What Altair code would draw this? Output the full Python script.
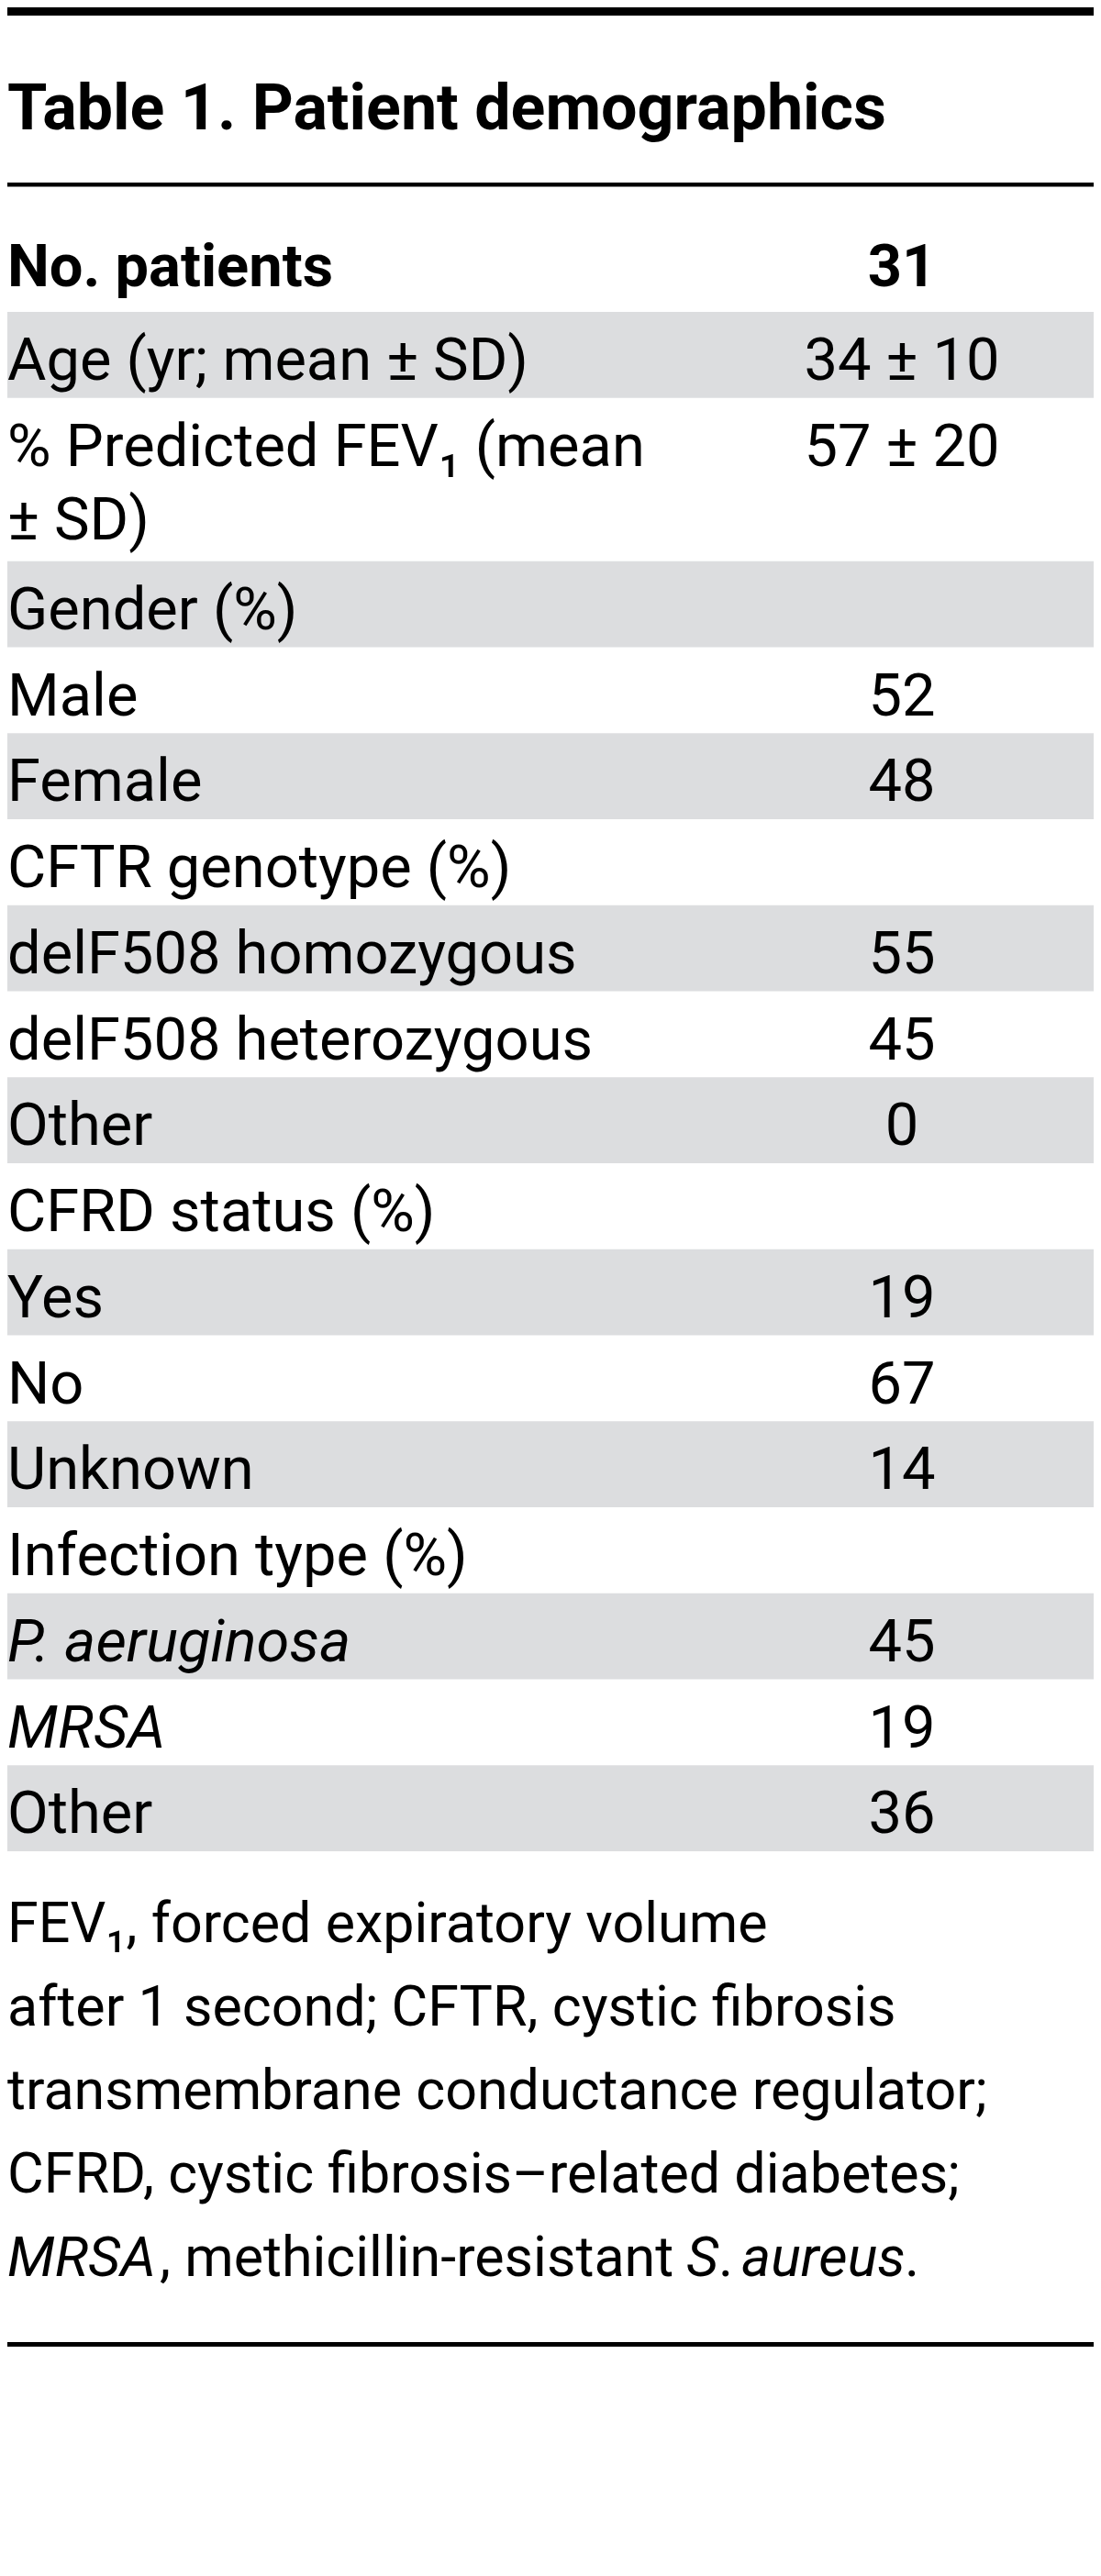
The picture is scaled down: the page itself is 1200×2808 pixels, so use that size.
import altair as alt
import pandas as pd

# ---------------- data ----------------
title_text = "Table 1. Patient demographics"
header_label = "No. patients"
header_value = "31"

row_labels = [
    "Age (yr; mean ± SD)",
    "% Predicted FEV₁ (mean\n± SD)",
    "Gender (%)",
    "Male",
    "Female",
    "CFTR genotype (%)",
    "delF508 homozygous",
    "delF508 heterozygous",
    "Other",
    "CFRD status (%)",
    "Yes",
    "No",
    "Unknown",
    "Infection type (%)",
    "P. aeruginosa",
    "MRSA",
    "Other",
]
row_values = ["34 ± 10", "57 ± 20", "", "52", "48", "", "55", "45", "0",
              "", "19", "67", "14", "", "45", "19", "36"]
row_italic = [False, False, False, False, False, False, False, False, False,
              False, False, False, False, False, True, True, False]

footnote_lines = [
    "FEV₁, forced expiratory volume",
    "after 1 second; CFTR, cystic fibrosis",
    "transmembrane conductance regulator;",
    "CFRD, cystic fibrosis–related diabetes;",
]
footnote_last_segments = ["MRSA", ", methicillin-resistant", "S", ".", "aureus", "."]
footnote_last_italic = [True, False, True, False, True, False]

# ---------------- layout (styles) ----------------
W, H = 1184, 2790
FONT = "Roboto"
GRAY = "#dcdddf"
BODY_SIZE = 65
TITLE_SIZE = 70
FOOT_SIZE = 61
TOP_BAR = (0, 9)
TITLE_BASE = 133
RULE1 = (191, 195.5)
HEADER_BASE = 304
BODY_TOP = 332
PITCH = 93.75
EXTRA_LINE = 84.25
BASE_OFF = 74
LINE_GAP = 80
VALUE_X = 975
FOOT_BASE0 = 2109
FOOT_GAP = 91
RULE2 = (2545, 2550)
SEG_X = [0, 166, 740, 775, 800, 978]

# ---------------- build tables ----------------
rects = [
    dict(x=0, x2=W, y=TOP_BAR[0], y2=TOP_BAR[1], c="#000000"),
    dict(x=0, x2=W, y=RULE1[0], y2=RULE1[1], c="#000000"),
    dict(x=0, x2=W, y=RULE2[0], y2=RULE2[1], c="#000000"),
]
lab_reg, lab_it, vals = [], [], []
top = BODY_TOP
for i, (lab, val, it) in enumerate(zip(row_labels, row_values, row_italic)):
    lines = lab.split("\n")
    h = PITCH + (len(lines) - 1) * EXTRA_LINE
    if i % 2 == 0:
        rects.append(dict(x=0, x2=W, y=top, y2=top + h, c=GRAY))
    for j, ln in enumerate(lines):
        rec = dict(x=0, y=top + BASE_OFF + j * LINE_GAP, text=ln)
        (lab_it if it else lab_reg).append(rec)
    if val:
        vals.append(dict(x=VALUE_X, y=top + BASE_OFF, text=val))
    top += h

foot_reg, foot_it = [], []
for j, ln in enumerate(footnote_lines):
    foot_reg.append(dict(x=0, y=FOOT_BASE0 + j * FOOT_GAP, text=ln))
yl = FOOT_BASE0 + len(footnote_lines) * FOOT_GAP
for seg, it, sx in zip(footnote_last_segments, footnote_last_italic, SEG_X):
    (foot_it if it else foot_reg).append(dict(x=sx, y=yl, text=seg))

xs = alt.Scale(domain=[0, W], nice=False, zero=False)
ys = alt.Scale(domain=[0, H], nice=False, zero=False, reverse=True)


def rect_layer(rows):
    return alt.Chart(pd.DataFrame(rows)).mark_rect().encode(
        x=alt.X("x:Q", scale=xs, axis=None),
        x2="x2:Q",
        y=alt.Y("y:Q", scale=ys, axis=None),
        y2="y2:Q",
        color=alt.Color("c:N", scale=None, legend=None),
    )


def text_layer(rows, size, weight="normal", style="normal", align="left"):
    return alt.Chart(pd.DataFrame(rows)).mark_text(
        align=align, baseline="alphabetic", font=FONT, fontSize=size,
        fontWeight=weight, fontStyle=style, color="#000000",
    ).encode(
        x=alt.X("x:Q", scale=xs, axis=None),
        y=alt.Y("y:Q", scale=ys, axis=None),
        text="text:N",
    )


layers = [
    rect_layer(rects),
    text_layer([dict(x=0, y=TITLE_BASE, text=title_text)], TITLE_SIZE, "bold"),
    text_layer([dict(x=0, y=HEADER_BASE, text=header_label)], BODY_SIZE, "bold"),
    text_layer([dict(x=VALUE_X, y=HEADER_BASE, text=header_value)], BODY_SIZE, "bold", align="center"),
    text_layer(lab_reg, BODY_SIZE),
    text_layer(lab_it, BODY_SIZE, style="italic"),
    text_layer(vals, BODY_SIZE, align="center"),
    text_layer(foot_reg, FOOT_SIZE),
    text_layer(foot_it, FOOT_SIZE, style="italic"),
]

chart = alt.layer(*layers).properties(
    width=W, height=H, padding=0, autosize="none", background="#ffffff"
).configure_view(strokeWidth=0)

chart.save("out.html", embed_options={"renderer": "svg", "actions": False})
